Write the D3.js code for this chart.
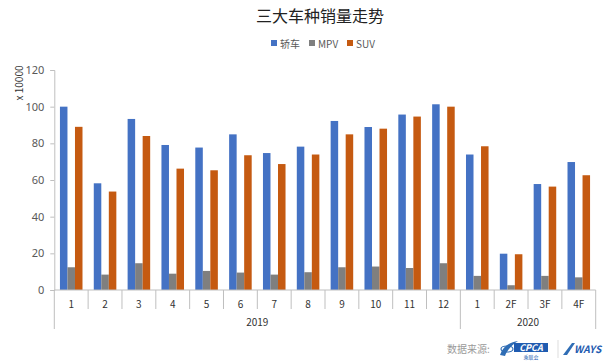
<!DOCTYPE html>
<html>
<head>
<meta charset="utf-8">
<script src="https://cdn.jsdelivr.net/npm/d3@7"></script>
<style>
  body { margin: 0; background: #fff; }
  svg { font-family: "Noto Sans CJK SC", "Noto Sans", sans-serif; }
</style>
</head>
<body>
<div id="canvas"></div>
<script>
const w = 605, h = 362;

// data (unit: 10,000 vehicles)
const months = ["1","2","3","4","5","6","7","8","9","10","11","12","1","2F","3F","4F"];
const years = ["2019","2020"];
const yearSpans = [12, 4];
const seriesNames = ["轿车","MPV","SUV"];
const sedan = [100, 58.2, 93.3, 79.1, 77.7, 84.9, 74.7, 78.2, 92.2, 88.9, 95.7, 101.3, 73.9, 19.8, 57.8, 69.8];
const mpv   = [12.4, 8.4, 14.6, 8.9, 10.4, 9.5, 8.4, 9.7, 12.4, 12.8, 12, 14.6, 7.7, 2.6, 7.7, 6.9];
const suv   = [89, 53.7, 84, 66.2, 65.3, 73.5, 68.7, 73.9, 84.9, 88, 94.6, 100, 78.4, 19.5, 56.4, 62.6];
const yTicks = [0, 20, 40, 60, 80, 100, 120];

const colors = ["#4472C4", "#7F7F7F", "#C55A11"];
const allSeries = [sedan, mpv, suv];

const plotL = 54.3, plotR = 595.7, plotT = 70, plotB = 290;
const lineColor = "#BFBFBF";
const textColor = "#595959";

let svg = d3.select("#canvas").append("svg").attr("width", w).attr("height", h);

// title
svg.append("text").text("三大车种销量走势")
   .attr("x", 320).attr("y", 22).attr("text-anchor", "middle")
   .attr("font-size", 16).attr("fill", "#222");

// legend
const legendX = [271, 309, 347];
seriesNames.forEach((s, i) => {
  svg.append("rect").attr("x", legendX[i]).attr("y", 40).attr("width", 6).attr("height", 6).attr("fill", colors[i]);
  svg.append("text").text(s).attr("x", legendX[i] + 9).attr("y", 47.5)
     .attr("font-size", 10).attr("fill", textColor);
});

// scales
const idx = months.map((d, i) => i);
const x0 = d3.scaleBand().domain(idx).range([plotL, plotR]).paddingInner(0).paddingOuter(0);
const x1 = d3.scaleBand().domain([0, 1, 2]).range([0, x0.bandwidth()]).paddingInner(0).paddingOuter(0.75);
const y = d3.scaleLinear().domain([0, 120]).range([plotB, plotT]);

// bars
const groups = svg.append("g").selectAll("g")
  .data(idx).enter().append("g")
  .attr("transform", d => "translate(" + x0(d) + ",0)");

groups.selectAll("rect")
  .data(d => allSeries.map((s, k) => ({k: k, v: s[d]})))
  .enter().append("rect")
  .attr("x", d => x1(d.k))
  .attr("width", x1.bandwidth())
  .attr("y", d => y(d.v))
  .attr("height", d => plotB - y(d.v))
  .attr("fill", d => colors[d.k]);

// y axis
const yAxis = d3.axisLeft(y).tickValues(yTicks).tickSize(4).tickPadding(6);
const gy = svg.append("g").attr("transform", "translate(" + plotL + ",0)").call(yAxis);
gy.select(".domain").attr("stroke", lineColor);
gy.selectAll(".tick line").attr("stroke", lineColor);
gy.selectAll(".tick text").attr("font-size", 11).attr("fill", textColor)
  .attr("font-family", "'Noto Sans', sans-serif");

svg.append("text").text("x 10000")
   .attr("transform", "translate(23,83) rotate(-90)")
   .attr("text-anchor", "middle").attr("font-size", 10).attr("fill", "#333");

// x axis baseline
svg.append("line").attr("x1", plotL).attr("x2", plotR).attr("y1", plotB).attr("y2", plotB)
   .attr("stroke", lineColor);

// category separators
const yearEdges = [0];
yearSpans.forEach(n => yearEdges.push(yearEdges[yearEdges.length - 1] + n));
d3.range(months.length + 1).forEach(i => {
  const xx = i < months.length ? x0(i) : plotR;
  const long = yearEdges.indexOf(i) >= 0;
  svg.append("line").attr("x1", xx).attr("x2", xx).attr("y1", plotB).attr("y2", long ? 329 : 309)
     .attr("stroke", lineColor);
});

// month labels
svg.append("g").selectAll("text").data(idx).enter().append("text")
  .text(d => months[d])
  .attr("x", d => x0(d) + x0.bandwidth() / 2).attr("y", 308)
  .attr("text-anchor", "middle").attr("font-size", 10).attr("fill", "#333");

// year labels
years.forEach((yr, i) => {
  const a = x0(yearEdges[i]);
  const b = yearEdges[i + 1] < months.length ? x0(yearEdges[i + 1]) : plotR;
  svg.append("text").text(yr).attr("x", (a + b) / 2).attr("y", 326)
     .attr("text-anchor", "middle").attr("font-size", 10).attr("fill", "#333");
});

// source note
svg.append("text").text("数据来源:").attr("x", 447).attr("y", 353)
   .attr("font-size", 10).attr("fill", "#9a9a9a");
// CPCA mark
svg.append("path").attr("d", "M500,355 C503,346 510,342 518,341 C512,345 507,350 505,356 Z").attr("fill", "#2F6DB5");
svg.append("ellipse").attr("cx", 507).attr("cy", 349).attr("rx", 6).attr("ry", 3)
   .attr("fill", "none").attr("stroke", "#2F6DB5").attr("stroke-width", 1.2);
svg.append("rect").attr("x", 514).attr("y", 343).attr("width", 34).attr("height", 9).attr("fill", "#1F5BB0");
svg.append("text").text("CPCA").attr("x", 531).attr("y", 351).attr("text-anchor", "middle")
   .attr("font-size", 9).attr("font-weight", "bold").attr("font-style", "italic").attr("fill", "#fff");
svg.append("text").text("乘联会").attr("x", 531).attr("y", 359).attr("text-anchor", "middle")
   .attr("font-size", 5).attr("fill", "#1F5BB0");
svg.append("line").attr("x1", 558).attr("x2", 558).attr("y1", 340).attr("y2", 358).attr("stroke", "#ddd");
// WAYS mark
svg.append("path").attr("d", "M563,355 L572,343 L575,343 L567,355 Z").attr("fill", "#2F6DB5");
svg.append("text").text("WAYS").attr("x", 574).attr("y", 353)
   .attr("font-size", 10).attr("font-weight", "bold").attr("font-style", "italic").attr("fill", "#1F5BB0");
</script>
</body>
</html>
